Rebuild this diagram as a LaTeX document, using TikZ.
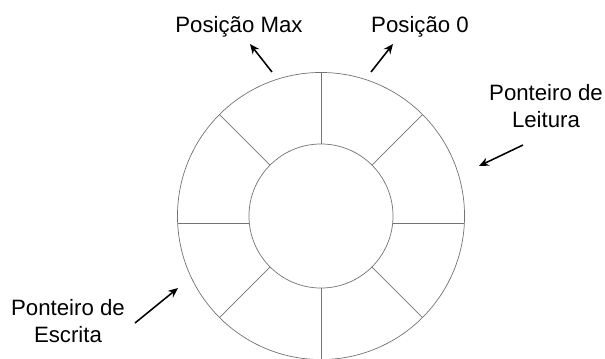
\documentclass[tikz,border=0pt]{standalone}
\usepackage{fontspec}
\setmainfont{Liberation Sans}
\usetikzlibrary{calc,arrows.meta}

\begin{document}
\begin{tikzpicture}[x=0.025cm, y=-0.025cm,
    font=\fontsize{15.8}{19.2}\selectfont,
    ring/.style={draw=black!55, line width=0.5pt},
    ptr/.style={-{Stealth[length=7pt,width=6pt]}, line width=1.1pt}]
    \useasboundingbox (0,0) rectangle (605,358);
    \clip (0,0) rectangle (605,358);

    % circular buffer
    \coordinate (c) at (321,216);
    \draw[ring] (c) circle[radius=3.5875cm];
    \draw[ring] (c) circle[radius=1.8cm];
    \foreach \a in {45,135,225,315}
        \draw[ring] ($(c)+(\a:1.8cm)$) -- ($(c)+(\a:3.5875cm)$);
    \draw[ring] (321,72.5) -- (321,144);
    \draw[ring] (321,288) -- (321,360);
    \draw[ring] (177.7,223) -- (249.3,223);
    \draw[ring] (392.7,223) -- (464.3,223);

    % labels
    \node (max) at (239,27) {Posição Max};
    \node (zero) at (420,27) {Posição 0};
    \node (read) [align=center] at (546,106) {Ponteiro de\\Leitura};
    \node (write) [align=center] at (68,321) {Ponteiro de\\Escrita};

    \coordinate (maxtail) at (272,72);
    \coordinate (maxhead) at (250,44);
    \coordinate (zerotail) at (371,72);
    \coordinate (zerohead) at (393,44);
    \coordinate (readtail) at (523,145);
    \coordinate (readhead) at (479,166);
    \coordinate (writetail) at (135,323);
    \coordinate (writehead) at (178,288);

    \draw[ptr] (maxtail) -- (maxhead);
    \draw[ptr] (zerotail) -- (zerohead);
    \draw[ptr] (readtail) -- (readhead);
    \draw[ptr] (writetail) -- (writehead);
\end{tikzpicture}
\end{document}
